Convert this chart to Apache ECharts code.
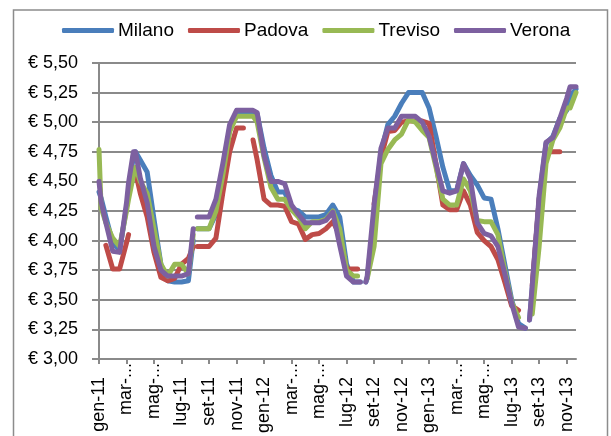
<!DOCTYPE html>
<html>
<head>
<meta charset="utf-8">
<script src="https://cdn.jsdelivr.net/npm/echarts@6/dist/echarts.min.js"></script>
<style>
  html, body { margin: 0; padding: 0; background: #ffffff; }
  #chart { width: 611px; height: 436px; }
</style>
</head>
<body>
<div id="chart"></div>
<script>
// Time of each observation, in months elapsed since 1 January 2011
const months = [
  0, 0.15, 0.5, 1, 1.5, 2, 2.15, 2.5, 2.65, 3, 3.5,
  4, 4.5, 5, 5.5, 6, 6.5, 6.85, 7, 7.15, 7.5,
  8, 8.5, 9, 9.5, 10, 10.5, 11, 11.2, 11.5, 12,
  12.5, 13, 13.5, 14, 14.5, 15, 15.5, 16, 16.5, 17,
  17.5, 18, 18.5, 18.8, 19, 19.2, 19.4, 19.5, 20, 20.5,
  21, 21.5, 22, 22.5, 23, 23.5, 24, 24.5, 25, 25.5,
  26, 26.5, 27, 27.5, 28, 28.5, 29, 29.5, 30, 30.5,
  31, 31.15, 31.3, 31.5, 32, 32.5, 33, 33.5, 34, 34.25,
  34.68
];

// Bi-monthly axis labels (gen-11 ... nov-13); the "..." ones are shortened
const tickMonths = [0, 2, 4, 6, 8, 10, 12, 14, 16, 18, 20, 22, 24, 26, 28, 30, 32, 34];
const tickLabels = [
  'gen-11', 'mar-...', 'mag-...', 'lug-11', 'set-11', 'nov-11',
  'gen-12', 'mar-...', 'mag-...', 'lug-12', 'set-12', 'nov-12',
  'gen-13', 'mar-...', 'mag-...', 'lug-13', 'set-13', 'nov-13'
];

// Prices in euro, null where no quotation was recorded
const milano = [
  4.41, 4.36, 4.20, 3.98, 3.92, 4.28, 4.40, 4.72, 4.75, 4.68, 4.58,
  4.18, 3.80, 3.66, 3.65, 3.65, 3.66, 4.00, null, 4.10, 4.10,
  4.10, 4.22, 4.55, 4.95, 5.08, 5.08, 5.08, 5.08, 5.07, 4.78,
  4.55, 4.41, 4.41, 4.27, 4.25, 4.20, 4.20, 4.20, 4.22, 4.30,
  4.20, 3.80, 3.65, 3.65, 3.65, null, 3.65, 3.68, 4.20, 4.75,
  4.98, 5.05, 5.16, 5.25, 5.25, 5.25, 5.12, 4.88, 4.62, 4.42,
  4.42, 4.65, 4.55, 4.47, 4.36, 4.35, 4.10, 3.80, 3.50, 3.30,
  3.26, null, 3.33, 3.60, 4.35, 4.82, 4.88, 5.03, 5.10, 5.22,
  5.28
];
const padova = [
  null, null, 3.96, 3.76, 3.76, 3.98, 4.05, null, 4.58, 4.40, 4.20,
  3.90, 3.69, 3.66, 3.68, 3.80, 3.85, 3.95, null, 3.95, 3.95,
  3.95, 4.02, 4.40, 4.75, 4.95, 4.95, null, 4.85, 4.68, 4.35,
  4.30, 4.30, 4.29, 4.16, 4.14, 4.01, 4.05, 4.06, 4.10, 4.16,
  4.05, 3.76, 3.76, 3.76, null, null, null, null, 4.31, 4.70,
  4.92, 4.93, 5.00, 5.01, 5.01, 5.01, 4.99, 4.65, 4.30, 4.26,
  4.26, 4.42, 4.30, 4.07, 4.00, 3.95, 3.84, 3.65, 3.45, 3.41,
  null, null, null, 3.62, 4.35, 4.75, 4.75, 4.75, null, null,
  null
];
const treviso = [
  4.77, 4.28, 4.15, 4.02, 3.95, 4.25, 4.35, 4.55, 4.62, 4.50, 4.40,
  4.10, 3.80, 3.70, 3.80, 3.80, 3.72, 4.05, null, 4.10, 4.10,
  4.10, 4.25, 4.55, 4.92, 5.05, 5.05, 5.05, 5.05, 5.00, 4.70,
  4.45, 4.35, 4.35, 4.26, 4.20, 4.10, 4.16, 4.16, 4.18, 4.25,
  4.10, 3.75, 3.70, 3.70, null, null, null, 3.68, 3.95, 4.65,
  4.77, 4.85, 4.90, 5.02, 5.00, 4.93, 4.87, 4.62, 4.35, 4.30,
  4.30, 4.52, 4.42, 4.17, 4.16, 4.16, 4.05, 3.75, 3.48, 3.35,
  null, null, null, 3.38, 3.95, 4.65, 4.85, 4.95, 5.12, 5.12,
  5.25
];
const verona = [
  4.50, 4.33, 4.15, 3.91, 3.90, 4.32, 4.49, 4.75, 4.75, 4.53, 4.32,
  3.95, 3.75, 3.70, 3.70, 3.70, 3.72, 4.10, null, 4.20, 4.20,
  4.20, 4.35, 4.65, 4.98, 5.10, 5.10, 5.10, 5.10, 5.08, 4.72,
  4.50, 4.50, 4.48, 4.30, 4.22, 4.15, 4.15, 4.15, 4.17, 4.24,
  3.96, 3.70, 3.65, 3.65, 3.65, null, 3.65, 3.70, 4.30, 4.78,
  4.95, 4.95, 5.05, 5.05, 5.05, 5.00, 4.88, 4.65, 4.42, 4.40,
  4.42, 4.65, 4.52, 4.15, 4.06, 4.04, 3.95, 3.72, 3.47, 3.27,
  3.26, null, 3.33, 3.62, 4.38, 4.83, 4.87, 5.03, 5.20, 5.30,
  5.30
];

const seriesDefs = [
  { name: 'Milano',  values: milano,  color: '#4a7ebb' },
  { name: 'Padova',  values: padova,  color: '#be4b48' },
  { name: 'Treviso', values: treviso, color: '#98b954' },
  { name: 'Verona',  values: verona,  color: '#7d60a0' }
];

const FONT = "'Liberation Sans', Arial, sans-serif";
const GRID_GREY = '#8a8a8a';

const chart = echarts.init(document.getElementById('chart'), null, { renderer: 'canvas' });

chart.setOption({
  animation: false,
  backgroundColor: '#ffffff',
  textStyle: { fontFamily: FONT },
  graphic: [{
    type: 'rect',
    silent: true,
    shape: { x: 13.5, y: 10, width: 594, height: 450 },
    style: { fill: 'none', stroke: '#8c8c8c', lineWidth: 1.5 }
  }],
  legend: {
    top: 16,
    left: 57,
    itemWidth: 52,
    itemHeight: 5,
    itemGap: 14,
    icon: 'roundRect',
    textStyle: { fontFamily: FONT, fontSize: 19, color: '#000000', padding: [0, 0, 0, -1] },
    data: seriesDefs.map(s => s.name)
  },
  grid: { left: 99, right: 35, top: 63, bottom: 73, containLabel: false },
  xAxis: {
    type: 'value',
    min: 0,
    max: 34.68,
    interval: 2,
    splitLine: { show: false },
    axisLine: { show: true, lineStyle: { color: GRID_GREY, width: 2 } },
    axisTick: {
      show: true, length: 5, inside: false,
      customValues: tickMonths,
      lineStyle: { color: GRID_GREY, width: 2 }
    },
    axisLabel: {
      customValues: tickMonths,
      rotate: 90,
      margin: 4,
      fontFamily: FONT,
      fontSize: 18,
      color: '#000000',
      // shortened labels sit right under the axis, full ones a little lower
      formatter: v => {
        const txt = tickLabels[tickMonths.indexOf(Math.round(v))] || '';
        return txt.indexOf('...') >= 0 ? '{s|' + txt + '}' : '{f|' + txt + '}';
      },
      rich: {
        s: { fontFamily: FONT, fontSize: 18, color: '#000000' },
        f: { fontFamily: FONT, fontSize: 18, color: '#000000', padding: [0, 14, 0, 0] }
      }
    }
  },
  yAxis: {
    type: 'value',
    min: 3,
    max: 5.5,
    interval: 0.25,
    axisLine: { show: true, lineStyle: { color: GRID_GREY, width: 2 } },
    axisTick: { show: true, length: 7, lineStyle: { color: GRID_GREY, width: 2 } },
    splitLine: { show: true, lineStyle: { color: GRID_GREY, width: 2 } },
    axisLabel: {
      margin: 21,
      fontFamily: FONT,
      fontSize: 18,
      color: '#000000',
      formatter: v => '€ ' + v.toFixed(2).replace('.', ',')
    }
  },
  series: seriesDefs.map(s => ({
    name: s.name,
    type: 'line',
    color: s.color,
    showSymbol: false,
    symbol: 'none',
    connectNulls: false,
    lineStyle: { width: 5, color: s.color, cap: 'round', join: 'round' },
    data: months.map((m, i) => [m, s.values[i] === null ? '-' : s.values[i]])
  }))
});
</script>
</body>
</html>
